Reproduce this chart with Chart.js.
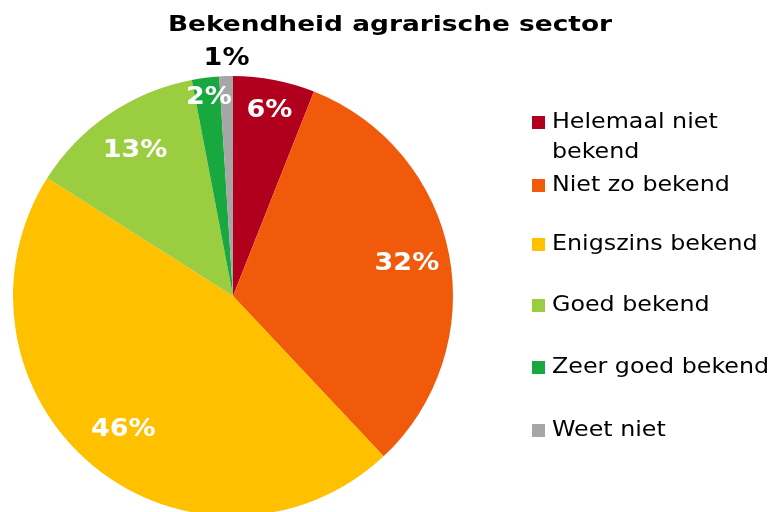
<!DOCTYPE html>
<html>
<head>
<meta charset="utf-8">
<script src="https://cdn.jsdelivr.net/npm/chart.js@4"></script>
<style>
  html, body { margin: 0; padding: 0; background: #fff; overflow: hidden; }
</style>
</head>
<body>
<canvas id="pie" width="771" height="520"></canvas>
<script>
const titel = 'Bekendheid agrarische sector';
const labels = ['Helemaal niet bekend', 'Niet zo bekend', 'Enigszins bekend', 'Goed bekend', 'Zeer goed bekend', 'Weet niet'];
const legendLines = [['Helemaal niet', 'bekend'], ['Niet zo bekend'], ['Enigszins bekend'], ['Goed bekend'], ['Zeer goed bekend'], ['Weet niet']];
const values = [6, 32, 46, 13, 2, 1];
const colors = ['#B0001E', '#F15A0A', '#FFC000', '#9ACD3F', '#18A83F', '#A6A6A6'];
// label distance from centre, as part of the radius
const labelPos = [0.86, 0.8, 0.79, 0.8, 0.91, 1.08];
const labelColor = ['#fff', '#fff', '#fff', '#fff', '#fff', '#000'];

// text a bit wider, closer to Verdana
function wideText(ctx, txt, x, y, sx) {
    ctx.save();
    ctx.translate(x, y);
    ctx.scale(sx, 1);
    ctx.fillText(txt, 0, 0);
    ctx.restore();
}

Chart.register({
    id: 'extras',
    afterDatasetsDraw(chart) {
        const ctx = chart.ctx;
        const arcs = chart.getDatasetMeta(0).data;
        ctx.save();
        ctx.textAlign = 'center';
        ctx.textBaseline = 'middle';
        ctx.font = 'bold 25px "DejaVu Sans"';
        arcs.forEach((arc, i) => {
            const mid = (arc.startAngle + arc.endAngle) / 2;
            const r = arc.outerRadius * labelPos[i];
            ctx.fillStyle = labelColor[i];
            wideText(ctx, values[i] + '%', arc.x + Math.cos(mid) * r + 1, arc.y + Math.sin(mid) * r, 1.08);
        });

        // title
        ctx.fillStyle = '#000';
        ctx.font = 'bold 22px "DejaVu Sans"';
        wideText(ctx, titel, 390, 25, 1.2);

        // legend
        ctx.textAlign = 'left';
        ctx.font = '22px "DejaVu Sans"';
        const rows = [122, 185, 244, 305, 367, 430];
        legendLines.forEach((lines, i) => {
            ctx.fillStyle = colors[i];
            ctx.fillRect(532, rows[i] - 6, 13, 13);
            ctx.fillStyle = '#000';
            lines.forEach((t, j) => wideText(ctx, t, 552, rows[i] + j * 30, 1.08));
        });
        ctx.restore();
    }
});

new Chart(document.getElementById('pie').getContext('2d'), {
    type: 'pie',
    data: {
        labels: labels,
        datasets: [{
            label: titel,
            data: values,
            backgroundColor: colors,
            borderWidth: 0
        }]
    },
    options: {
        responsive: false,
        animation: false,
        layout: { padding: { top: 76, left: 13, right: 318, bottom: 4 } },
        plugins: {
            legend: { display: false },
            tooltip: { enabled: false }
        }
    }
});
</script>
</body>
</html>
